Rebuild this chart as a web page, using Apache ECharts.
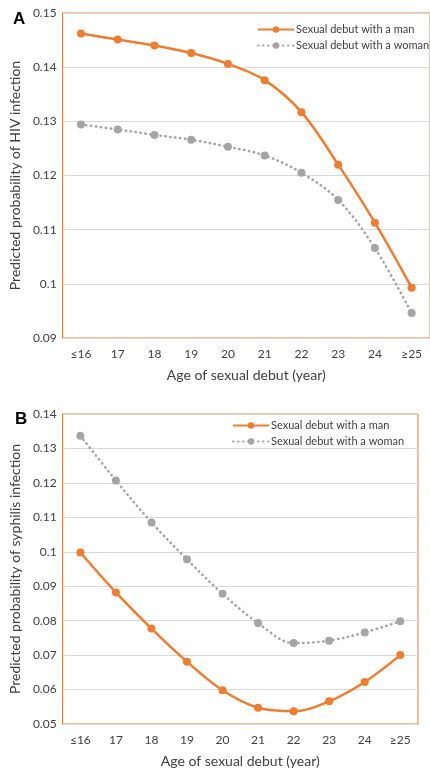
<!DOCTYPE html>
<html>
<head>
<meta charset="utf-8">
<script src="https://cdn.jsdelivr.net/npm/echarts@6/dist/echarts.min.js"></script>
<style>
html, body { margin: 0; padding: 0; background: #fff; }
#chart { width: 430px; height: 773px; }
</style>
</head>
<body>
<div id="chart"></div>
<script>
const ages = ['≤16', '17', '18', '19', '20', '21', '22', '23', '24', '≥25']

// panel A: HIV
const hivMan = [0.1462, 0.1451, 0.1440, 0.1426, 0.1406, 0.1376, 0.1317, 0.1220, 0.1113, 0.0993]
const hivWoman = [0.1294, 0.1285, 0.1275, 0.1266, 0.1253, 0.1237, 0.1205, 0.1155, 0.1066, 0.0946]

// panel B: syphilis
const syphMan = [0.0998, 0.0882, 0.0777, 0.0681, 0.0598, 0.0547, 0.0537, 0.0566, 0.0622, 0.0700]
const syphWoman = [0.1337, 0.1207, 0.1085, 0.0978, 0.0878, 0.0793, 0.0735, 0.0742, 0.0766, 0.0798]

const manName = 'Sexual debut with a man'
const womanName = 'Sexual debut with a woman'
const orange = '#ED7D31'
const grey = '#A5A5A5'
const font = 'Lato, "Liberation Sans", sans-serif'
const textColor = '#404040'

const xAxisFor = (gridIndex) => ({
  type: 'category',
  gridIndex,
  data: ages,
  boundaryGap: true,
  axisLine: { lineStyle: { color: '#D9D9D9', width: 1 } },
  axisTick: { show: false },
  axisLabel: { color: textColor, fontSize: 12, fontFamily: font, margin: 10 },
  name: 'Age of sexual debut (year)',
  nameLocation: 'middle',
  nameGap: 30,
  nameTextStyle: { color: textColor, fontSize: 14, fontFamily: font }
})

const yAxisFor = (gridIndex, min, max, name) => ({
  type: 'value',
  gridIndex,
  min, max, interval: 0.01,
  axisLine: { show: true, lineStyle: { color: orange, width: 1 } },
  axisTick: { show: false },
  axisLabel: { color: textColor, fontSize: 12, fontFamily: font, margin: 6 },
  splitLine: { lineStyle: { color: '#D9D9D9', width: 1 } },
  name,
  nameLocation: 'middle',
  nameGap: 34,
  nameTextStyle: { color: textColor, fontSize: 14, fontFamily: font }
})

const lineSeries = (name, data, idx, isMan) => ({
  name,
  type: 'line',
  xAxisIndex: idx,
  yAxisIndex: idx,
  data,
  smooth: 0.35,
  symbol: 'circle',
  symbolSize: 8,
  lineStyle: isMan
    ? { color: orange, width: 2.5 }
    : { color: grey, width: 2.5, type: [0.5, 4.5], cap: 'round' },
  itemStyle: { color: isMan ? orange : grey },
  emphasis: { disabled: true }
})

const legendFor = (left, top) => ({
  data: [manName, womanName],
  orient: 'vertical',
  left, top,
  itemWidth: 36, itemHeight: 8, itemGap: 5,
  textStyle: { color: textColor, fontSize: 11, fontFamily: font, padding: [0, 0, 0, -3] }
})

const chart = echarts.init(document.getElementById('chart'))
chart.setOption({
  animation: false,
  textStyle: { fontFamily: font },
  title: [
    { text: 'A', left: 8, top: 6, textStyle: { fontSize: 17, fontWeight: 'bold', color: '#000', fontFamily: 'Arial, "Liberation Sans", sans-serif' } },
    { text: 'B', left: 10, top: 406, textStyle: { fontSize: 17, fontWeight: 'bold', color: '#000', fontFamily: 'Arial, "Liberation Sans", sans-serif' } }
  ],
  legend: [legendFor(252, 19), legendFor(227, 415)],
  grid: [
    { left: 60, top: 13, width: 378, height: 325, show: true, borderColor: orange, borderWidth: 1 },
    { left: 59, top: 414, width: 359, height: 310, show: true, borderColor: orange, borderWidth: 1 }
  ],
  xAxis: [xAxisFor(0), xAxisFor(1)],
  yAxis: [
    yAxisFor(0, 0.09, 0.15, 'Predicted probability of HIV infection'),
    yAxisFor(1, 0.05, 0.14, 'Predicted probability of syphilis infection')
  ],
  series: [
    lineSeries(manName, hivMan, 0, true),
    lineSeries(womanName, hivWoman, 0, false),
    lineSeries(manName, syphMan, 1, true),
    lineSeries(womanName, syphWoman, 1, false)
  ]
})
</script>
</body>
</html>
